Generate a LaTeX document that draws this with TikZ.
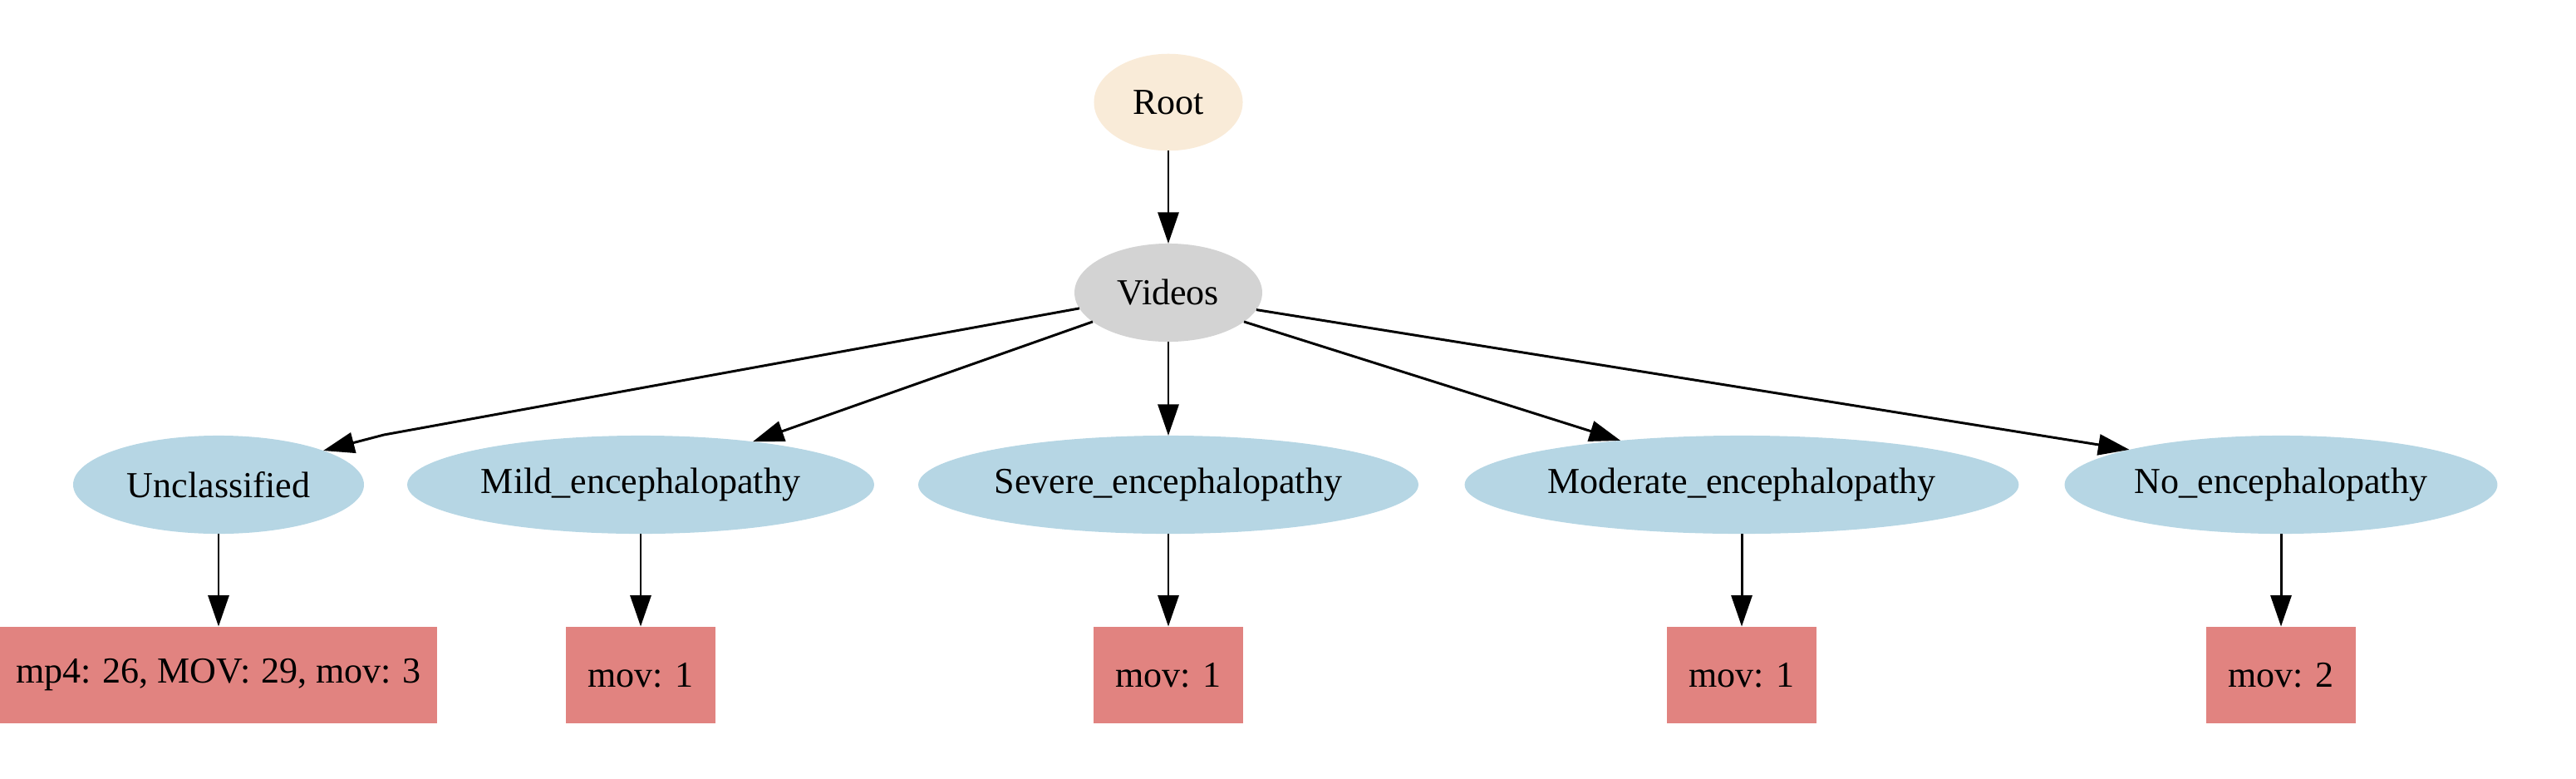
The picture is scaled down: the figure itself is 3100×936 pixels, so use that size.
\documentclass[tikz,border=0pt]{standalone}
\usepackage{fontspec}
\setmainfont{Liberation Serif}
\usetikzlibrary{shapes.geometric,arrows.meta}
\definecolor{rootfill}{RGB}{249,235,216}
\definecolor{vidfill}{RGB}{211,211,211}
\definecolor{catfill}{RGB}{182,214,228}
\definecolor{boxfill}{RGB}{225,131,128}
\begin{document}
\begin{tikzpicture}[x=0.32pt,y=-0.32pt,
  every node/.style={font=\fontsize{14.1}{16}\selectfont, inner sep=0pt, outer sep=0pt, text=black},
  rootnode/.style={ellipse, fill=rootfill, minimum width=57.3pt, minimum height=37.3pt},
  vidnode/.style={ellipse, fill=vidfill, minimum width=72.3pt, minimum height=37.8pt},
  catnode/.style={ellipse, fill=catfill, minimum height=37.8pt},
  leafbox/.style={rectangle, fill=boxfill, minimum width=57.6pt, minimum height=37.4pt},
  edge/.style={draw=black, line width=0.95pt, -{Triangle[length=12pt,width=8pt]}}]
\useasboundingbox (0,0) rectangle (3100,936);

\node[rootnode] (root) at (1406,123) {Root};
\node[vidnode] (videos) at (1406,352) {Videos};

\node[catnode, minimum width=112pt] (uncl) at (263,583) {Unclassified};
\node[catnode, minimum width=179.8pt] (mild) at (771,583) {Mild\_encephalopathy};
\node[catnode, minimum width=192.6pt] (severe) at (1406,583) {Severe\_encephalopathy};
\node[catnode, minimum width=213.4pt] (moderate) at (2096,583) {Moderate\_encephalopathy};
\node[catnode, minimum width=166.7pt] (noenc) at (2745,583) {No\_encephalopathy};

\node[leafbox, minimum width=168.3pt] (ubox) at (263,812) {mp4:\hspace{0.3em}26, MOV:\hspace{0.3em}29, mov:\hspace{0.3em}3};
\node[leafbox] (mbox) at (771,812) {mov: 1};
\node[leafbox] (sbox) at (1406,812) {mov: 1};
\node[leafbox] (modbox) at (2096,812) {mov: 1};
\node[leafbox] (nbox) at (2745,812) {mov: 2};

\coordinate (ukink) at (462,523);

\draw[edge] (root) -- (videos);
\draw[edge] (videos.190.7) -- (ukink) -- (uncl.18.3);
\draw[edge] (videos.201.5) -- (mild.21.3);
\draw[edge] (videos) -- (severe);
\draw[edge] (videos.339.7) -- (moderate.160.3);
\draw[edge] (videos.349.4) -- (noenc.167.4);

\draw[edge] (uncl) -- (ubox);
\draw[edge] (mild) -- (mbox);
\draw[edge] (severe) -- (sbox);
\draw[edge] (moderate) -- (modbox);
\draw[edge] (noenc) -- (nbox);
\end{tikzpicture}
\end{document}
